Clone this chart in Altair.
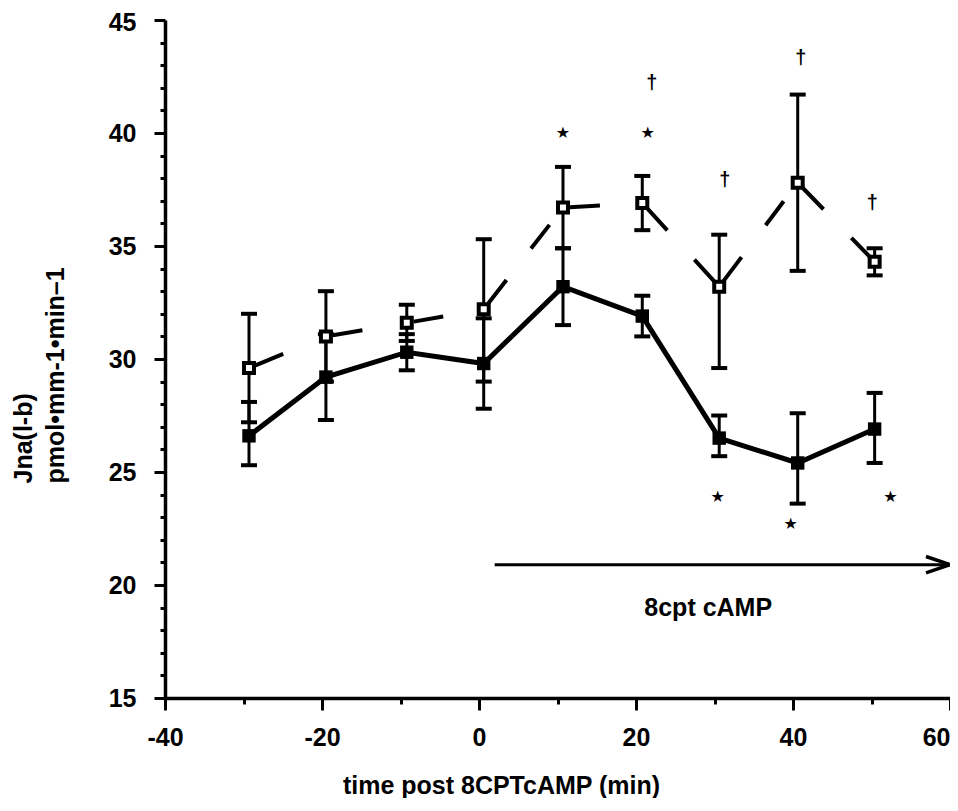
import altair as alt
import pandas as pd

# ---- data ----
x_pos = [-29.3, -19.5, -9.2, 0.6, 10.7, 20.8, 30.6, 40.6, 50.4]

filled_mean = [26.6, 29.2, 30.3, 29.8, 33.2, 31.9, 26.5, 25.4, 26.9]
filled_lo = [25.3, 27.3, 29.5, 27.8, 31.5, 31.0, 25.7, 23.6, 25.4]
filled_hi = [28.1, 31.1, 31.1, 31.8, 34.9, 32.8, 27.5, 27.6, 28.5]

open_mean = [29.6, 31.0, 31.6, 32.2, 36.7, 36.9, 33.2, 37.8, 34.3]
open_lo = [27.2, 29.0, 30.8, 29.0, 34.9, 35.7, 29.6, 33.9, 33.7]
open_hi = [32.0, 33.0, 32.4, 35.3, 38.5, 38.1, 35.5, 41.7, 34.9]

star_x = [10.7, 21.5, 30.4, 39.7, 52.4]
star_y = [40.0, 40.0, 23.9, 22.7, 23.9]
dagger_x = [22.0, 31.3, 41.0, 50.1]
dagger_y = [42.2, 37.9, 43.3, 36.9]

arrow_x_start = [2.0]
arrow_x_end = [60.0]
arrow_y = [20.9]
arrow_label = ["8cpt cAMP"]
arrow_label_x = [29.2]
arrow_label_y = [19.0]

x_ticks = list(range(-40, 61, 10))
y_ticks = list(range(15, 46, 1))

x_title = "time post 8CPTcAMP (min)"
y_title = ["Jna(l-b)", "pmol\u2022mm-1\u2022min\u20131"]

FONT = "Liberation Sans"

# ---- tables ----
df_filled = pd.DataFrame({"x": x_pos, "mean": filled_mean, "lo": filled_lo, "hi": filled_hi})
df_open = pd.DataFrame({"x": x_pos, "mean": open_mean, "lo": open_lo, "hi": open_hi})

seg_rows = []
for i in range(len(x_pos) - 1):
    seg_rows.append({"seg": i, "ord": 0, "x": x_pos[i], "y": open_mean[i]})
    seg_rows.append({"seg": i, "ord": 1, "x": x_pos[i + 1], "y": open_mean[i + 1]})
df_seg = pd.DataFrame(seg_rows)

df_star = pd.DataFrame({"x": star_x, "y": star_y})
df_dag = pd.DataFrame({"x": dagger_x, "y": dagger_y})
df_arrow = pd.DataFrame({"x": arrow_x_start, "x2": arrow_x_end, "y": arrow_y})
df_lab = pd.DataFrame({"x": arrow_label_x, "y": arrow_label_y, "t": arrow_label})

xscale = alt.Scale(domain=[-40, 60], nice=False, zero=False)
yscale = alt.Scale(domain=[15, 45], nice=False, zero=False)

xaxis = alt.Axis(
    values=x_ticks,
    labelExpr="datum.value % 20 === 0 ? '' + datum.value : ''",
    tickSize={"condition": {"test": "datum.value % 20 === 0", "value": 12}, "value": 6},
    labelAlign={"condition": {"test": "datum.value === 60", "value": "right"}, "value": "center"},
    labelPadding=15,
    labelFlush=False,
    labelOverlap=False,
    titleX=336,
    titleY=95,
    titleAlign="center",
    titleBaseline="alphabetic",
    grid=False,
)
yaxis = alt.Axis(
    values=y_ticks,
    labelExpr="datum.value % 5 === 0 ? '' + datum.value : ''",
    tickSize={"condition": {"test": "datum.value % 5 === 0", "value": 11}, "value": 5},
    labelOffset={"condition": {"test": "datum.value === 45", "value": 2}, "value": 0},
    labelPadding=18,
    labelOverlap=False,
    titleAngle=270,
    titleAlign="left",
    titleBaseline="top",
    titleX=-154,
    titleY=463,
    titleLineHeight=32,
    grid=False,
)


def X(field):
    return alt.X(field, type="quantitative", scale=xscale, axis=xaxis, title=x_title)


def Y(field):
    return alt.Y(field, type="quantitative", scale=yscale, axis=yaxis, title=y_title)


def errbars(df):
    rules = alt.Chart(df).mark_rule(color="black", strokeWidth=3).encode(
        x=X("x"), y=Y("lo"), y2="hi"
    )
    caps = alt.Chart(df).transform_fold(["lo", "hi"], as_=["k", "v"]).mark_tick(
        orient="horizontal", color="black", size=16, thickness=4, opacity=1
    ).encode(x=X("x"), y=Y("v"))
    return rules + caps


open_eb = errbars(df_open)
filled_eb = errbars(df_filled)

filled_line = alt.Chart(df_filled).mark_line(color="black", strokeWidth=5).encode(
    x=X("x"), y=Y("mean")
)

open_line = alt.Chart(df_seg).mark_line(
    color="black", strokeWidth=4, strokeDash=[30, 40], strokeDashOffset=63
).encode(x=X("x"), y=Y("y"), detail="seg:N", order="ord:O")

filled_pts = alt.Chart(df_filled).mark_square(
    size=180, color="black", opacity=1, filled=True
).encode(x=X("x"), y=Y("mean"))

open_pts = alt.Chart(df_open).mark_square(
    size=100, filled=True, fill="white", stroke="black", strokeWidth=4, opacity=1
).encode(x=X("x"), y=Y("mean"))

stars = alt.Chart(df_star).mark_text(
    text="\u2605", font="DejaVu Sans", fontSize=16, color="black"
).encode(x=X("x"), y=Y("y"))

daggers = alt.Chart(df_dag).mark_text(
    text="\u2020", font=FONT, fontWeight="bold", fontSize=20, color="black"
).encode(x=X("x"), y=Y("y"))

arrow_line = alt.Chart(df_arrow).mark_rule(color="black", strokeWidth=3).encode(
    x=X("x"), x2="x2", y=Y("y")
)
arrow_head = alt.Chart(df_arrow).mark_point(
    shape="M-1,-0.34L0,0L-1,0.34", filled=False, color="black", strokeWidth=3.5,
    size=2304, opacity=1
).encode(x=X("x2"), y=Y("y"))

label = alt.Chart(df_lab).mark_text(
    font=FONT, fontWeight="bold", fontSize=25, color="black"
).encode(x=X("x"), y=Y("y"), text="t:N")

chart = alt.layer(
    open_eb, filled_eb, filled_line, open_line, filled_pts, open_pts,
    stars, daggers, arrow_line, arrow_head, label
).properties(
    width=785,
    height=678,
    autosize=alt.AutoSizeParams(type="none"),
    padding={"left": 157, "top": 12, "right": 0, "bottom": 100},
    background="white",
).configure_view(
    stroke=None
).configure_axis(
    domainColor="black",
    domainWidth=3.5,
    tickColor="black",
    tickWidth=3,
    labelFont=FONT,
    labelFontWeight="bold",
    labelFontSize=25,
    labelColor="black",
    titleFont=FONT,
    titleFontWeight="bold",
    titleFontSize=25,
    titleColor="black",
)

chart.save("out.html", embed_options={"renderer": "svg", "actions": False})
